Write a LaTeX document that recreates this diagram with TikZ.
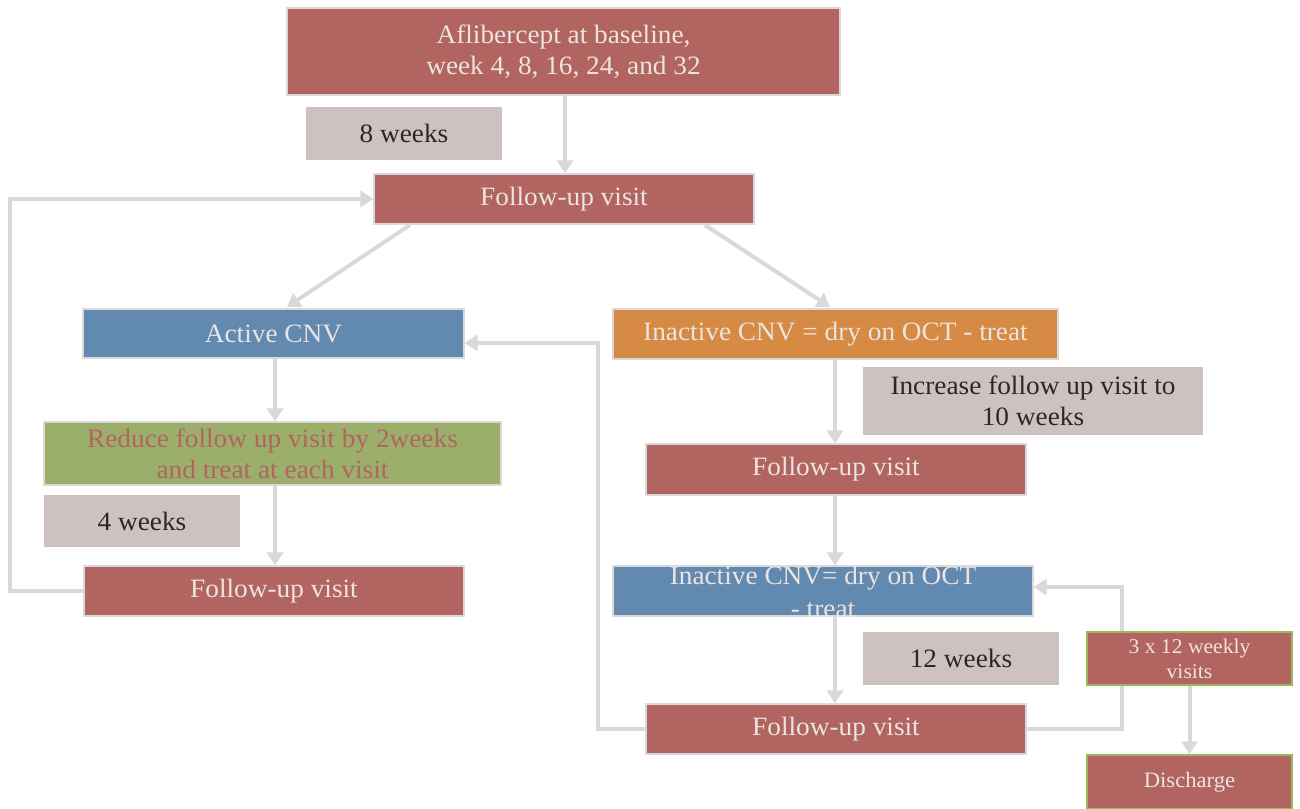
\documentclass[tikz,border=0pt]{standalone}
\usepackage{fontspec}
\setmainfont{Liberation Serif}[FakeStretch=1.03]
\usetikzlibrary{arrows.meta,backgrounds}
\definecolor{boxred}{RGB}{178,101,96}
\definecolor{boxblue}{RGB}{98,137,176}
\definecolor{boxorange}{RGB}{214,138,67}
\definecolor{boxgreen}{RGB}{155,174,106}
\definecolor{boxmauve}{RGB}{206,194,193}
\definecolor{linegray}{RGB}{217,217,217}
\definecolor{paletext}{RGB}{236,228,224}
\definecolor{darktext}{RGB}{40,40,40}
\definecolor{greenedge}{RGB}{150,185,90}
\tikzset{
  box/.style={draw=linegray, line width=1.2pt, inner sep=0pt, align=center,
    font=\fontsize{26.5}{31}\selectfont},
  redbox/.style={box, fill=boxred, text=paletext},
  bluebox/.style={box, fill=boxblue, text=paletext},
  orangebox/.style={box, fill=boxorange, text=paletext},
  greenbox/.style={box, fill=boxgreen, text=boxred},
  notebox/.style={box, fill=boxmauve, text=darktext, draw=none},
  smallbox/.style={box, fill=boxred, text=paletext, draw=greenedge, line width=1.5pt,
    font=\fontsize{21}{25}\selectfont},
  conn/.style={draw=linegray, line width=4pt, -{Triangle[width=16pt,length=13pt]}},
}
\begin{document}
\begin{tikzpicture}[x=1pt,y=-1pt]
\useasboundingbox (0,0) rectangle (1300,808);
\clip (0,0) rectangle (1300,808);
\node[redbox, minimum width=553pt, minimum height=87pt] (top) at (563.5,51.5) {Aflibercept at baseline,\\week 4, 8, 16, 24, and 32};
\node[notebox, minimum width=196pt, minimum height=53pt] (w8) at (404,133.5) {8 weeks};
\node[redbox, minimum width=380pt, minimum height=50pt] (fu1) at (564,199) {Follow-up visit};
\node[bluebox, minimum width=381pt, minimum height=49pt] (active) at (273.5,333.5) {Active CNV};
\node[orangebox, minimum width=445pt, minimum height=50pt] (inact1) at (835.5,334) {Inactive CNV = dry on OCT - treat};
\node[notebox, minimum width=340pt, minimum height=68pt] (incr) at (1033,401) {Increase follow up visit to\\10 weeks};
\node[redbox, minimum width=380pt, minimum height=51pt] (fu2) at (836,469.5) {Follow-up visit};
\node[greenbox, minimum width=457pt, minimum height=63pt] (reduce) at (272.5,453.5) {Reduce follow up visit by 2weeks\\and treat at each visit};
\node[notebox, minimum width=196pt, minimum height=52pt] (w4) at (142,521) {4 weeks};
\node[redbox, minimum width=380pt, minimum height=50pt] (fu3) at (274,591) {Follow-up visit};
\node[bluebox, minimum width=420pt, minimum height=50pt] (inact2) at (823,591) {};
\node[text=paletext, font=\fontsize{26.5}{33}\selectfont, align=center, anchor=north, inner sep=0pt] (inact2t) at (823,566) {Inactive CNV= dry on OCT\\- treat};
\node[notebox, minimum width=196pt, minimum height=53pt] (w12) at (961,658.5) {12 weeks};
\node[redbox, minimum width=380pt, minimum height=50pt] (fu4) at (836,729) {Follow-up visit};
\node[smallbox, minimum width=205pt, minimum height=53pt] (three) at (1189.5,658.5) {3 x 12 weekly\\visits};
\node[smallbox, minimum width=205pt, minimum height=54pt, font=\fontsize{22}{25}\selectfont] (dis) at (1189.5,782) {Discharge};

\coordinate (l1) at (10,591);
\coordinate (l2) at (10,199);
\coordinate (m1) at (598,729);
\coordinate (m2) at (598,343);
\coordinate (r1) at (1122,729);
\coordinate (r2) at (1122,587);

\draw[conn] (top.south -| 565,0) -- (fu1.north -| 565,0);
\draw[conn] (fu3.west) -- (l1) -- (l2) -- (fu1.west);
\draw[conn] (410,225) -- (287,307);
\draw[conn] (705,225) -- (830,307);
\draw[conn] (active.south -| 275,0) -- (reduce.north -| 275,0);
\draw[conn] (reduce.south -| 275,0) -- (fu3.north -| 275,0);
\draw[conn] (inact1.south -| 835,0) -- (fu2.north -| 835,0);
\draw[conn] (fu2.south -| 835,0) -- (inact2.north -| 835,0);
\draw[conn] (inact2.south -| 835,0) -- (fu4.north -| 835,0);
\draw[conn] (fu4.west) -- (m1) -- (m2) -- (active.east |- m2);
\begin{scope}[on background layer]
\draw[conn] (fu4.east) -- (r1) -- (r2) -- (inact2.east |- r2);
\end{scope}
\draw[conn] (three.south) -- (dis.north);
\end{tikzpicture}
\end{document}
